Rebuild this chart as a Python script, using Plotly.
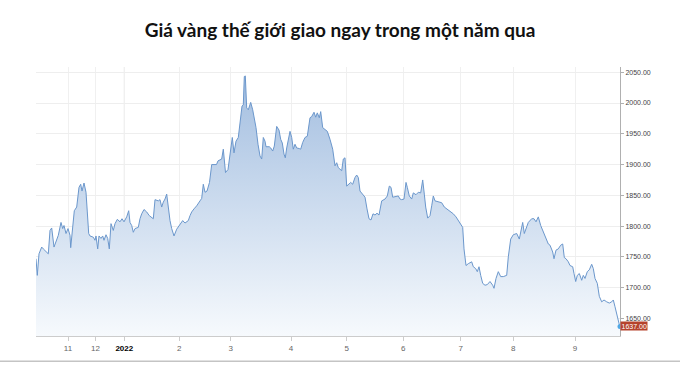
import plotly.graph_objects as go

# time index (chart position units along the ordinal time axis) and spot gold price (USD/oz)
t_index = [0, 1.3, 3, 5.7, 7.3, 12.3, 14, 15.7, 18, 20.7, 22.3, 25, 26.7, 28, 30, 32, 34, 34.7, 36.7, 38.3,
           40.7, 43, 44.7, 46, 48, 50, 51.3, 52.7, 54, 57.3, 59, 60, 61.7, 63, 65, 66.7, 68, 70, 71.7, 73.3,
           75, 77.3, 79, 81.3, 84, 86, 88, 90.7, 92.7, 94, 95.7, 97.3, 99, 102.3, 104, 105.7, 108, 110.7, 113.3, 117.3,
           119, 122.3, 124, 125.7, 127.3, 129, 130.7, 132.3, 134, 135.7, 138, 140.7, 143.3, 146.7, 149, 152.3, 154, 155.7, 158, 160.7,
           164, 165.7, 167.3, 169, 171, 173.5, 175.7, 180.5, 182, 185.7, 187.3, 189.5, 192, 194.7, 196.3, 198, 200, 202.3,
           204, 206, 207.3, 208.3, 209.3, 210.7, 212.3, 214.7, 216.7, 218, 220, 222, 224, 225.7, 227.3, 229, 230, 233.3,
           234.7, 236.7, 238.3, 240.7, 243, 244.7, 246.3, 248, 249.3, 250.7, 252.3, 254, 255.7, 257.3, 259, 260.7, 263.3, 264.7,
           266.7, 269, 271.3, 274, 275.7, 278, 279.7, 281.3, 283.3, 284.7, 286.7, 289, 291.3, 294, 296.7, 299, 300.7, 302.3,
           304, 305.7, 307.3, 309, 310.7, 312.3, 314.7, 316.7, 319, 320.7, 322.3, 324, 326.7, 329, 331, 333, 335, 337,
           339, 341, 343, 345.7, 349, 351.3, 353.3, 355, 356.7, 359, 362.3, 364, 365.7, 368, 370, 371.3, 373.3, 375.7, 377.3,
           380, 382.3, 384.7, 386.7, 388.3, 389.7, 391.7, 394, 395.7, 397.3, 399, 401.3, 405.7, 408.3, 410.7, 414, 417.3, 420,
           422.3, 424.7, 426.7, 428, 430, 432.3, 435.7, 437.3, 439.7, 441.3, 443, 444.7, 446.7, 449, 451.3, 454, 456.7, 458, 460,
           462.3, 464.7, 467.3, 470.7, 472.3, 474.7, 477.3, 480.7, 483.3, 485, 486.7, 488.3, 490, 492.3, 495.7, 498, 500, 502.3,
           504.7, 507.3, 510, 512.3, 514, 516.7, 518, 520, 522.3, 524.7, 526.7, 528.3, 530, 532.3, 534, 536.7, 538, 539.7,
           541.3, 543.3, 545.7, 547.3, 549, 551.3, 553.3, 555.7, 557.3, 559, 561.3, 563.3, 565.7, 568, 570.7, 573.3, 575.7, 577.3,
           579, 580.7, 583.3, 584]
price = [1747, 1720, 1755, 1766, 1763, 1755, 1793, 1797, 1766, 1780, 1785, 1806, 1796, 1801, 1788, 1796, 1785, 1765, 1806, 1825,
         1831, 1863, 1868, 1857, 1870, 1855, 1823, 1788, 1784, 1782, 1777, 1784, 1763, 1784, 1780, 1784, 1777, 1786, 1780, 1763,
         1804, 1793, 1804, 1811, 1807, 1812, 1807, 1815, 1825, 1806, 1801, 1790, 1796, 1798, 1812, 1820, 1827, 1823, 1817, 1812,
         1843, 1841, 1843, 1831, 1839, 1844, 1852, 1828, 1809, 1796, 1784, 1795, 1801, 1809, 1805, 1809, 1817, 1823, 1828, 1833,
         1841, 1845, 1868, 1855, 1857, 1871, 1900, 1900, 1906, 1909, 1925, 1887, 1892, 1922, 1944, 1919, 1938, 1944, 1968, 1995,
         1997, 2043, 2044, 1992, 1989, 2001, 1989, 1978, 1960, 1933, 1914, 1909, 1944, 1938, 1929, 1929, 1927, 1922, 1930, 1962,
         1956, 1941, 1935, 1917, 1911, 1927, 1941, 1954, 1944, 1925, 1933, 1927, 1926, 1925, 1936, 1944, 1946, 1976,
         1978, 1985, 1977, 1984, 1976, 1986, 1960, 1957, 1954, 1941, 1925, 1898, 1903, 1895, 1892, 1890, 1909, 1911,
         1865, 1868, 1871, 1868, 1879, 1883, 1879, 1857, 1852, 1847, 1828, 1812, 1810, 1820, 1818, 1821, 1818, 1841,
         1844, 1849, 1865, 1863, 1847, 1848, 1849, 1844, 1843, 1844, 1871, 1863, 1849, 1844, 1854, 1851, 1855, 1854, 1875,
         1852, 1831, 1813, 1817, 1833, 1849, 1841, 1840, 1838, 1831, 1828, 1825, 1820, 1815, 1809, 1802, 1798, 1763,
         1736, 1739, 1742, 1734, 1731, 1726, 1734, 1720, 1707, 1704, 1705, 1710, 1704, 1699, 1715, 1726, 1718, 1718, 1720,
         1750, 1779, 1786, 1788, 1779, 1796, 1806, 1788, 1796, 1806, 1812, 1812, 1807, 1815, 1801, 1790, 1779, 1771,
         1769, 1758, 1747, 1761, 1763, 1769, 1771, 1749, 1747, 1742, 1736, 1734, 1723, 1710, 1720, 1723, 1712, 1720, 1715, 1726,
         1729, 1738, 1731, 1715, 1707, 1686, 1677, 1680, 1677, 1675, 1677, 1680, 1669, 1656, 1640, 1637]

tick_pos = [32, 59.5, 88.3, 143.3, 194.7, 255, 310.7, 367.3, 424.7, 477.3, 539]
tick_labels = ["11", "12", "<span style='color:#000'><b>2022</b></span>", "2", "3", "4", "5", "6", "7", "8", "9"]
y_ticks = [1650, 1700, 1750, 1800, 1850, 1900, 1950, 2000, 2050]

n = min(len(t_index), len(price))
t_index = t_index[:n]
price = price[:n]
last_price = price[-1]

Y_MIN, Y_MAX = 1621.5, 2058.5
X_MAX = 584

fig = go.Figure()
fig.add_trace(go.Scatter(
    x=t_index, y=price, mode="lines",
    line=dict(color="#6b97cc", width=1),
    fill="tozeroy",
    fillgradient=dict(type="vertical", start=Y_MIN, stop=Y_MAX,
                      colorscale=[[0, "rgb(247,250,253)"], [1, "rgb(160,188,223)"]]),
    hoverinfo="skip", showlegend=False,
))
fig.add_trace(go.Scatter(
    x=[t_index[-1]], y=[last_price], mode="markers",
    marker=dict(color="#4fa8e6", size=5),
    cliponaxis=False, showlegend=False, hoverinfo="skip",
))

fig.add_shape(type="line", xref="x", yref="y", x0=0, x1=X_MAX, y0=last_price, y1=last_price,
              line=dict(color="#e6c3c0", width=1, dash="dash"), layer="below")
fig.add_shape(type="line", xref="x", yref="paper", x0=tick_pos[2], x1=tick_pos[2], y0=0, y1=1,
              line=dict(color="#dedede", width=1), layer="below")
fig.add_shape(type="line", xref="paper", yref="paper", x0=-36 / 584, x1=644 / 584,
              y0=-25.5 / 271, y1=-25.5 / 271, line=dict(color="#c4c4c4", width=1.5))

fig.add_annotation(x=1.0, xref="paper", y=last_price, yref="y", xanchor="left", yanchor="middle",
                   text=f"{last_price:.2f}", showarrow=False, bgcolor="#b5432c",
                   font=dict(color="white", size=7, family="Liberation Sans, Arial"), borderpad=0.5)

fig.update_layout(
    width=680, height=365,
    margin=dict(l=36, r=60, t=67, b=27),
    paper_bgcolor="white", plot_bgcolor="white",
    title=dict(text="<b>Giá vàng thế giới giao ngay trong một năm qua</b>",
               x=0.5, xanchor="center", y=1 - 30 / 365, yanchor="middle", yref="container",
               font=dict(family="Lato, Noto Sans, sans-serif", size=19, color="#111")),
    xaxis=dict(range=[0, X_MAX], tickmode="array", tickvals=tick_pos, ticktext=tick_labels,
               showgrid=True, gridcolor="#f0f0f0", gridwidth=1,
               showline=True, linecolor="#cccccc", linewidth=1,
               ticks="outside", ticklen=4, tickcolor="#cccccc",
               tickfont=dict(size=8, color="#666", family="Liberation Sans, Arial"),
               zeroline=False, fixedrange=True),
    yaxis=dict(range=[Y_MIN, Y_MAX], side="right", tickmode="array", tickvals=y_ticks,
               tickformat=".2f", showgrid=True, gridcolor="#eeeeee", gridwidth=1,
               showline=True, linecolor="#b0b0b0", linewidth=1,
               ticks="outside", ticklen=3, tickcolor="#b0b0b0",
               tickfont=dict(size=7, color="#444", family="Liberation Sans, Arial"),
               zeroline=False, fixedrange=True),
)

fig.write_html("out.html")
